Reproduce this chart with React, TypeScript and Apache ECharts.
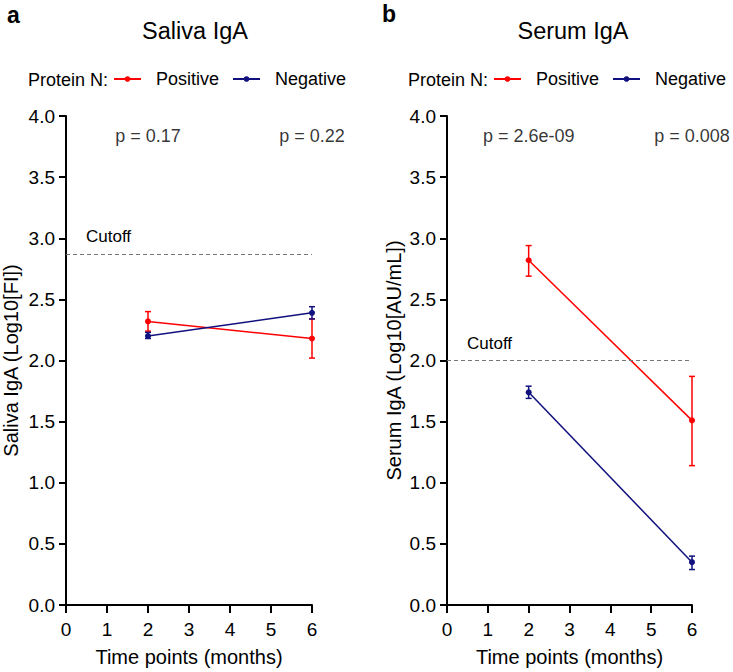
import React, { useEffect, useRef } from "react";
import * as echarts from "echarts";

const timePoints = [2, 6];
const xTicks = [0, 1, 2, 3, 4, 5, 6];

const salivaPositive = [2.32, 2.18];
const salivaPositiveLow = [2.24, 2.02];
const salivaPositiveHigh = [2.4, 2.34];
const salivaNegative = [2.2, 2.39];
const salivaNegativeLow = [2.18, 2.34];
const salivaNegativeHigh = [2.23, 2.44];

const serumPositive = [2.82, 1.51];
const serumPositiveLow = [2.69, 1.14];
const serumPositiveHigh = [2.94, 1.87];
const serumNegative = [1.74, 0.35];
const serumNegativeLow = [1.69, 0.29];
const serumNegativeHigh = [1.79, 0.4];

const cutoffs = [2.87, 2.0];
const salivaP = ["p = 0.17", "p = 0.22"];
const serumP = ["p = 2.6e-09", "p = 0.008"];
const pLevel = 3.84;

const RED = "#ff0000";
const BLUE = "#10107e";
const INK = "#000";
const FONT = "Liberation Sans, Arial, sans-serif";

function errSeries(name: string, color: string, idx: number, low: number[], high: number[]) {
  return {
    type: "custom",
    name: name + "_err",
    xAxisIndex: idx,
    yAxisIndex: idx,
    silent: true,
    z: 3,
    data: timePoints.map((t, i) => [t, low[i], high[i]]),
    renderItem: (params: any, api: any) => {
      const x = api.value(0);
      const lo = api.coord([x, api.value(1)]);
      const hi = api.coord([x, api.value(2)]);
      const w = 3;
      const style = { stroke: color, lineWidth: 1.5 };
      return {
        type: "group",
        children: [
          { type: "line", shape: { x1: lo[0], y1: lo[1], x2: hi[0], y2: hi[1] }, style },
          { type: "line", shape: { x1: lo[0] - w, y1: lo[1], x2: lo[0] + w, y2: lo[1] }, style },
          { type: "line", shape: { x1: hi[0] - w, y1: hi[1], x2: hi[0] + w, y2: hi[1] }, style },
        ],
      };
    },
  };
}

function lineSeries(name: string, color: string, idx: number, vals: number[], extra: any = {}) {
  return {
    type: "line",
    name,
    xAxisIndex: idx,
    yAxisIndex: idx,
    data: timePoints.map((t, i) => [t, vals[i]]),
    symbol: "circle",
    symbolSize: 6,
    itemStyle: { color },
    lineStyle: { color, width: 1.5 },
    z: 4,
    ...extra,
  };
}

function cutoffMark(v: number) {
  return {
    silent: true,
    symbol: ["none", "none"],
    lineStyle: { color: "#777", type: [4, 3], width: 1 },
    label: {
      show: true,
      position: "insideStartTop",
      formatter: "Cutoff",
      color: INK,
      fontSize: 17,
      fontFamily: FONT,
      distance: [20, 9],
    },
    data: [[{ coord: [0, v] }, { coord: [6, v] }]],
  };
}

function pSeries(idx: number, labels: string[]) {
  return {
    type: "scatter",
    xAxisIndex: idx,
    yAxisIndex: idx,
    symbolSize: 0,
    silent: true,
    data: timePoints.map((t) => [t, pLevel]),
    label: {
      show: true,
      position: "inside",
      formatter: (p: any) => labels[p.dataIndex],
      color: INK,
      fontSize: 18,
      fontFamily: FONT,
    },
  };
}

function xAxisCfg(idx: number) {
  return {
    type: "value",
    gridIndex: idx,
    min: 0,
    max: 6,
    interval: 1,
    name: "Time points (months)",
    nameLocation: "middle",
    nameGap: 42,
    nameTextStyle: { color: INK, fontSize: 20, fontFamily: FONT },
    axisLine: { show: true, lineStyle: { color: "#000", width: 2 } },
    axisTick: { show: true, length: 8, lineStyle: { color: "#000", width: 2 } },
    axisLabel: { color: INK, fontSize: 19, fontFamily: FONT, margin: 15, customValues: xTicks },
    splitLine: { show: false },
  };
}

function yAxisCfg(idx: number, name: string, gap: number) {
  return {
    type: "value",
    gridIndex: idx,
    min: 0,
    max: 4,
    interval: 0.5,
    name,
    nameLocation: "middle",
    nameGap: gap,
    nameTextStyle: { color: INK, fontSize: 20, fontFamily: FONT },
    axisLine: { show: true, lineStyle: { color: "#000", width: 2 } },
    axisTick: { show: true, length: 7, lineStyle: { color: "#000", width: 2 } },
    axisLabel: {
      color: INK,
      fontSize: 19,
      fontFamily: FONT,
      margin: 11,
      formatter: (v: number) => v.toFixed(1),
    },
    splitLine: { show: false },
  };
}

function legendCfg(left: number) {
  return {
    left,
    top: 70,
    padding: 0,
    itemWidth: 27,
    itemHeight: 7,
    itemGap: 13,
    data: ["Positive", "Negative"],
    textStyle: { color: INK, fontSize: 18, fontFamily: FONT, padding: [0, 0, 0, 10] },
    selectedMode: false,
  };
}

export default function App() {
  const ref = useRef<HTMLDivElement>(null);
  useEffect(() => {
    if (!ref.current) return;
    const chart = echarts.init(ref.current, null, { renderer: "svg" });
    chart.setOption({
      animation: false,
      backgroundColor: "#fff",
      title: [
        { text: "Saliva IgA", left: 190, top: 14, textAlign: "center", textStyle: { fontSize: 23.5, fontWeight: "normal", color: INK, fontFamily: FONT } },
        { text: "Serum IgA", left: 568, top: 14, textAlign: "center", textStyle: { fontSize: 23.5, fontWeight: "normal", color: INK, fontFamily: FONT } },
      ],
      graphic: [
        { type: "text", left: 7, top: 3, style: { text: "a", fontSize: 23, fontWeight: "bold", fill: INK, fontFamily: FONT } },
        { type: "text", left: 382, top: 2, style: { text: "b", fontSize: 23, fontWeight: "bold", fill: INK, fontFamily: FONT } },
        { type: "text", left: 28, top: 71, style: { text: "Protein N:", fontSize: 18, fill: INK, fontFamily: FONT } },
        { type: "text", left: 408, top: 71, style: { text: "Protein N:", fontSize: 18, fill: INK, fontFamily: FONT } },
      ],
      legend: [legendCfg(113), legendCfg(493)],
      grid: [
        { left: 66, right: 421, top: 116, bottom: 66 },
        { left: 447, right: 41, top: 116, bottom: 66 },
      ],
      xAxis: [xAxisCfg(0), xAxisCfg(1)],
      yAxis: [yAxisCfg(0, "Saliva IgA (Log10[FI])", 45), yAxisCfg(1, "Serum IgA (Log10[AU/mL])", 43)],
      series: [
        errSeries("Positive", RED, 0, salivaPositiveLow, salivaPositiveHigh),
        errSeries("Negative", BLUE, 0, salivaNegativeLow, salivaNegativeHigh),
        lineSeries("Positive", RED, 0, salivaPositive, { markLine: cutoffMark(cutoffs[0]) }),
        lineSeries("Negative", BLUE, 0, salivaNegative),
        pSeries(0, salivaP),
        errSeries("Positive", RED, 1, serumPositiveLow, serumPositiveHigh),
        errSeries("Negative", BLUE, 1, serumNegativeLow, serumNegativeHigh),
        lineSeries("Positive", RED, 1, serumPositive, { markLine: cutoffMark(cutoffs[1]) }),
        lineSeries("Negative", BLUE, 1, serumNegative),
        pSeries(1, serumP),
      ],
    });
    return () => chart.dispose();
  }, []);
  return (
    <div
      ref={ref}
      style={{ position: "fixed", left: 0, top: 0, width: 733, height: 672, background: "#fff" }}
    />
  );
}
